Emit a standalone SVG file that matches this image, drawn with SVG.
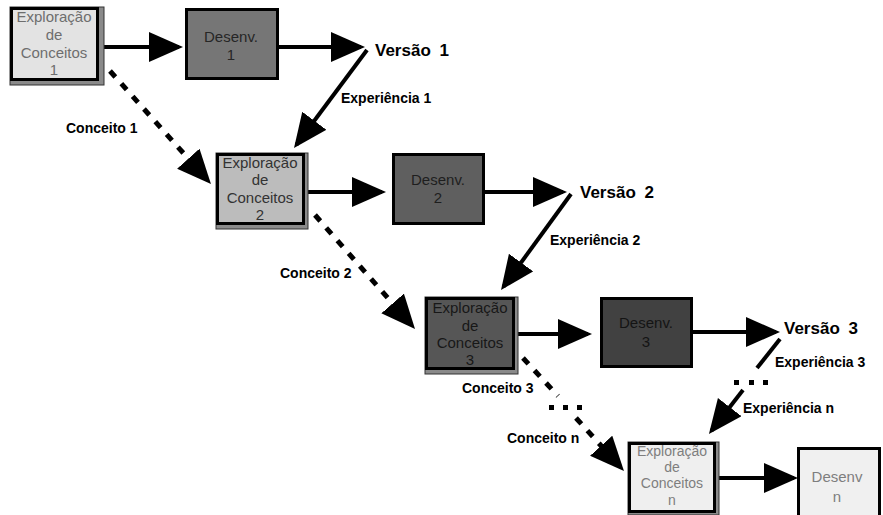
<svg xmlns="http://www.w3.org/2000/svg" width="883" height="515" viewBox="0 0 883 515">
<style>
  .frame { stroke: #000; stroke-width: 3; }
  .band { fill: #8a8a8a; stroke: #333; stroke-width: 1; }
  .bt { font-family: "Liberation Sans", Arial, sans-serif; font-size: 15px; text-anchor: middle; }
  .bs { font-family: "Liberation Sans", Arial, sans-serif; font-size: 14px; text-anchor: middle; }
  .lbl { font-family: "Liberation Sans", Arial, sans-serif; font-weight: bold; font-size: 14px; fill: #000; }
  .ver { font-family: "Liberation Sans", Arial, sans-serif; font-weight: bold; font-size: 17px; fill: #000; word-spacing: 4px; }
  .solid { stroke: #000; stroke-width: 4; fill: none; }
  .dash { stroke: #000; stroke-width: 5; fill: none; stroke-dasharray: 8 9; }
</style>
<defs>
  <marker id="ah" markerUnits="userSpaceOnUse" viewBox="0 0 36 32" markerWidth="36" markerHeight="32" refX="30" refY="15" orient="auto">
    <path d="M0,0 L34,15 L0,30 Z" fill="#000"/>
  </marker>
</defs>

<g id="connectors">
  <line class="solid" x1="100" y1="47" x2="179" y2="47" marker-end="url(#ah)"/>
  <line class="solid" x1="279" y1="47" x2="361" y2="47" marker-end="url(#ah)"/>
  <line class="solid" x1="367" y1="50" x2="296.4" y2="144.8" marker-end="url(#ah)"/>
  <line class="dash" x1="110" y1="71" x2="208.3" y2="181" marker-end="url(#ah)"/>

  <line class="solid" x1="307" y1="192" x2="382" y2="192" marker-end="url(#ah)"/>
  <line class="solid" x1="485" y1="192" x2="563" y2="192" marker-end="url(#ah)"/>
  <line class="solid" x1="571" y1="194" x2="503.4" y2="286.8" marker-end="url(#ah)"/>
  <line class="dash" x1="315" y1="215" x2="412.4" y2="326" marker-end="url(#ah)"/>

  <line class="solid" x1="517" y1="334" x2="588" y2="334" marker-end="url(#ah)"/>
  <line class="solid" x1="693" y1="332" x2="776" y2="332" marker-end="url(#ah)"/>
  <line class="solid" x1="780" y1="339" x2="757" y2="368"/>
  <rect x="734" y="380" width="5" height="5"/>
  <rect x="749" y="380" width="5" height="5"/>
  <rect x="763" y="380" width="5" height="5"/>
  <line class="solid" x1="743" y1="390" x2="711.4" y2="430.8" marker-end="url(#ah)"/>

  <line class="dash" x1="523" y1="358" x2="558" y2="396"/>
  <rect x="549" y="405" width="5" height="5"/>
  <rect x="563" y="405" width="5" height="5"/>
  <rect x="577" y="405" width="5" height="5"/>
  <line class="dash" x1="576" y1="418" x2="621.3" y2="468" marker-end="url(#ah)"/>

  <line class="solid" x1="716" y1="478" x2="794" y2="478" marker-end="url(#ah)"/>
</g>

<g id="exp1">
  <rect class="band" x="10" y="7" width="94" height="78"/>
  <rect class="frame" x="11.5" y="8.5" width="86" height="71" fill="#e3e3e3"/>
  <g class="bt" fill="#6e6e6e">
    <text x="54" y="22">Exploração</text>
    <text x="54" y="40">de</text>
    <text x="54" y="58">Conceitos</text>
    <text x="54" y="75">1</text>
  </g>
</g>
<g id="desenv1">
  <rect class="frame" x="186.5" y="9.5" width="91" height="69" fill="#767676"/>
  <g class="bt" fill="#262626">
    <text x="231" y="42">Desenv.</text>
    <text x="231" y="60">1</text>
  </g>
</g>
<g id="versao1"><text class="ver" x="375" y="56">Versão 1</text></g>
<g id="labels1">
  <text class="lbl" x="341" y="103">Experiência 1</text>
  <text class="lbl" x="66" y="133">Conceito 1</text>
</g>

<g id="exp2">
  <rect class="band" x="216" y="153" width="92" height="76"/>
  <rect class="frame" x="217.5" y="154.5" width="86" height="69" fill="#bcbcbc"/>
  <g class="bt" fill="#333333">
    <text x="260" y="168">Exploração</text>
    <text x="260" y="185">de</text>
    <text x="260" y="203">Conceitos</text>
    <text x="260" y="220">2</text>
  </g>
</g>
<g id="desenv2">
  <rect class="frame" x="393.5" y="154.5" width="90" height="69" fill="#5f5f5f"/>
  <g class="bt" fill="#1e1e1e">
    <text x="438" y="185">Desenv.</text>
    <text x="438" y="203">2</text>
  </g>
</g>
<g id="versao2"><text class="ver" x="580" y="198">Versão 2</text></g>
<g id="labels2">
  <text class="lbl" x="550" y="245">Experiência 2</text>
  <text class="lbl" x="280" y="278">Conceito 2</text>
</g>

<g id="exp3">
  <rect class="band" x="425" y="297" width="93" height="77"/>
  <rect class="frame" x="426.5" y="298.5" width="87" height="70" fill="#565656"/>
  <g class="bt" fill="#181818">
    <text x="470" y="313">Exploração</text>
    <text x="470" y="331">de</text>
    <text x="470" y="348">Conceitos</text>
    <text x="470" y="365">3</text>
  </g>
</g>
<g id="desenv3">
  <rect class="frame" x="601.5" y="298.5" width="90" height="68" fill="#414141"/>
  <g class="bt" fill="#141414">
    <text x="646" y="328">Desenv.</text>
    <text x="646" y="347">3</text>
  </g>
</g>
<g id="versao3"><text class="ver" x="784" y="334">Versão 3</text></g>
<g id="labels3">
  <text class="lbl" x="775" y="367">Experiência 3</text>
  <text class="lbl" x="462" y="393">Conceito 3</text>
  <text class="lbl" x="743" y="413">Experiência n</text>
  <text class="lbl" x="507" y="443">Conceito n</text>
</g>

<g id="expn">
  <rect class="band" x="628" y="442" width="91" height="73"/>
  <rect class="frame" x="629.5" y="443.5" width="85" height="68" fill="#efefef"/>
  <g class="bs" fill="#7e7e7e">
    <text x="672" y="456">Exploração</text>
    <text x="672" y="472">de</text>
    <text x="672" y="488">Conceitos</text>
    <text x="672" y="505">n</text>
  </g>
</g>
<g id="desenvn">
  <rect class="frame" x="798.5" y="448.5" width="81" height="68" fill="#f0f0f0"/>
  <g class="bt" fill="#7e7e7e">
    <text x="837" y="482">Desenv</text>
    <text x="837" y="502">n</text>
  </g>
</g>
</svg>
